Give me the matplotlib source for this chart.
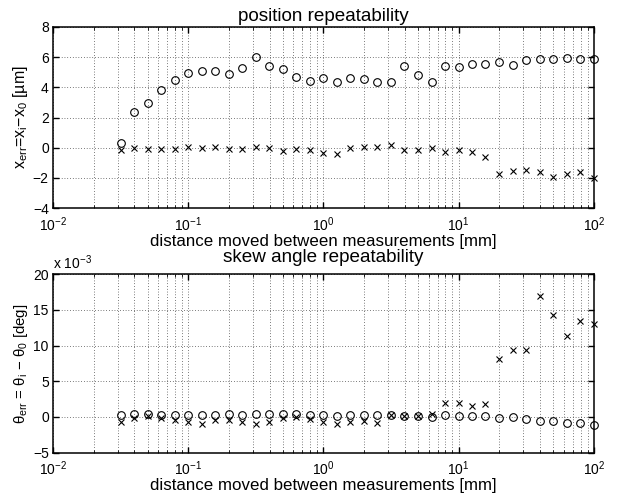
import matplotlib
matplotlib.use("Agg")
import matplotlib.pyplot as plt
from matplotlib.ticker import LogLocator, MultipleLocator, NullFormatter

plt.rcParams['font.family'] = ['Liberation Sans', 'DejaVu Sans']
plt.rcParams['mathtext.fontset'] = 'custom'
plt.rcParams['mathtext.rm'] = 'Liberation Sans'
plt.rcParams['mathtext.it'] = 'Liberation Sans'

# distancias [mm]
distancia = [0.0316, 0.0398, 0.0501, 0.0631, 0.0794, 0.1, 0.126, 0.158, 0.2, 0.251,
             0.316, 0.398, 0.501, 0.631, 0.794, 1.0, 1.26, 1.58, 2.0, 2.51,
             3.16, 3.98, 5.01, 6.31, 7.94, 10.0, 12.6, 15.8, 20.0, 25.1,
             31.6, 39.8, 50.1, 63.1, 79.4, 100.0]

# error de posicion [um]
pos_circulos = [0.33, 2.36, 2.93, 3.82, 4.47, 4.96, 5.05, 5.05, 4.89, 5.27,
                5.98, 5.42, 5.22, 4.69, 4.40, 4.62, 4.38, 4.60, 4.56, 4.38,
                4.38, 5.38, 4.80, 4.38, 5.38, 5.33, 5.53, 5.56, 5.71, 5.49,
                5.82, 5.89, 5.89, 5.93, 5.89, 5.89]
pos_cruces = [-0.15, 0.0, -0.09, -0.06, -0.10, 0.04, 0.0, 0.04, -0.09, -0.10,
              0.04, 0.0, -0.22, -0.07, -0.18, -0.38, -0.42, -0.04, 0.02, 0.07,
              0.20, -0.18, -0.18, 0.0, -0.31, -0.18, -0.29, -0.60, -1.71, -1.55,
              -1.51, -1.62, -1.93, -1.73, -1.64, -2.00]

# error de angulo [x 1e-3 deg]
ang_circulos = [0.33, 0.42, 0.47, 0.28, 0.28, 0.33, 0.33, 0.33, 0.47, 0.28,
                0.37, 0.37, 0.42, 0.37, 0.28, 0.28, 0.14, 0.33, 0.23, 0.33,
                0.23, 0.14, 0.14, 0.05, 0.23, 0.19, 0.09, 0.14, -0.09, 0.0,
                -0.28, -0.51, -0.56, -0.79, -0.84, -1.12]
ang_cruces = [-0.75, -0.10, 0.10, -0.10, -0.42, -0.65, -0.93, -0.47, -0.37, -0.75,
              -0.93, -0.75, -0.19, 0.0, -0.33, -0.70, -0.93, -0.70, -0.51, -0.79,
              0.23, 0.19, 0.14, 0.47, 1.96, 1.90, 1.50, 1.77, 8.17, 9.42,
              9.33, 16.88, 14.32, 11.29, 13.48, 13.06]


def preparar_ejes(ax, ymin, ymax, paso):
    ax.set_xscale('log')
    ax.set_xlim(1e-2, 1e2)
    ax.set_ylim(ymin, ymax)
    ax.yaxis.set_major_locator(MultipleLocator(paso))
    ax.xaxis.set_major_locator(LogLocator(base=10, numticks=10))
    ax.xaxis.set_minor_locator(LogLocator(base=10, subs=range(2, 10), numticks=50))
    ax.xaxis.set_minor_formatter(NullFormatter())
    ax.grid(True, which='major', color='black', linestyle=(0, (1, 3)), linewidth=0.5)
    ax.grid(True, which='minor', axis='x', color='black', linestyle=(0, (1, 3)), linewidth=0.5)
    ax.tick_params(which='both', direction='in', top=True, right=True, labelsize=10)
    ax.tick_params(axis='x', pad=5)
    ax.tick_params(axis='y', pad=3)
    ax.tick_params(which='major', length=4, width=1)
    ax.tick_params(which='minor', length=2, width=0.6)
    for s in ax.spines.values():
        s.set_linewidth(1.1)
    ax.set_xlabel('distance moved between measurements [mm]', fontsize=12.2, labelpad=0)


def dibujar(ax, circulos, cruces):
    ax.plot(distancia, circulos, 'o', mfc='none', mec='black', ms=5.5, mew=0.8, clip_on=False)
    ax.plot(distancia, cruces, 'x', color='black', ms=3.8, mew=0.8, clip_on=False)


fig = plt.figure(figsize=(6.18, 4.99), dpi=100)

ax1 = fig.add_axes([0.0858, 0.583, 0.875, 0.363])
dibujar(ax1, pos_circulos, pos_cruces)
preparar_ejes(ax1, -4, 8, 2)
ax1.set_title('position repeatability', fontsize=13.6, pad=4)
ax1.set_ylabel(r'x$_{\mathregular{err}}$=x$_{\mathregular{i}}$$-$x$_{\mathregular{0}}$ [µm]',
               fontsize=11.5, labelpad=2)

ax2 = fig.add_axes([0.0858, 0.0928, 0.875, 0.358])
dibujar(ax2, ang_circulos, ang_cruces)
preparar_ejes(ax2, -5, 20, 5)
ax2.set_title('skew angle repeatability', fontsize=13.6, pad=8.4)
ax2.set_ylabel(r'θ$_{\mathregular{err}}$ = θ$_{\mathregular{i}}$ $-$ θ$_{\mathregular{0}}$ [deg]',
               fontsize=10.8, labelpad=2)
ax2.text(0.0, 1.012, r'x 10$^{-3}$', transform=ax2.transAxes, ha='left', va='bottom', fontsize=10)

fig.savefig('out.png', dpi=100)
